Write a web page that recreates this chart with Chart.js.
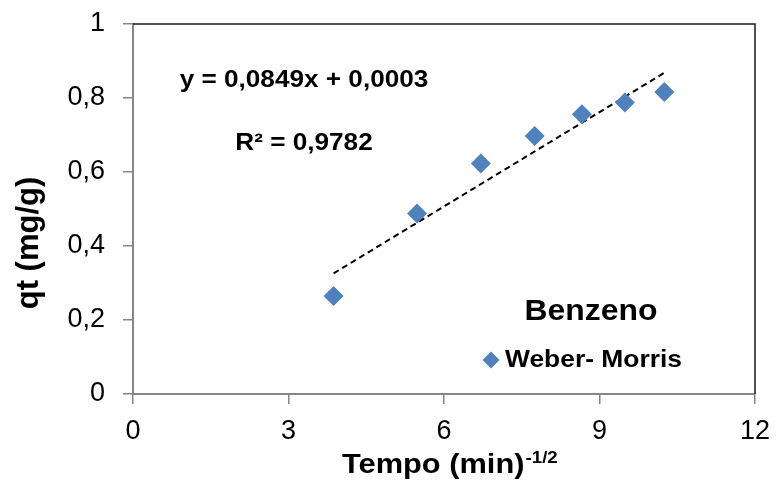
<!DOCTYPE html>
<html>
<head>
<meta charset="utf-8">
<script src="https://cdn.jsdelivr.net/npm/chart.js@4/dist/chart.umd.min.js"></script>
<style>
  html, body { margin: 0; padding: 0; background: #fff; }
  #wrap { width: 778px; height: 488px; }
</style>
</head>
<body>
<div id="wrap"><canvas id="c" width="778" height="488"></canvas></div>
<script>
// ---- data ----
const tempo = [3.87, 5.48, 6.71, 7.75, 8.66, 9.49, 10.25];       // x: Tempo (min)^-1/2
const qt = [0.265, 0.488, 0.623, 0.697, 0.756, 0.788, 0.816];      // y: qt (mg/g)
const trendX = [3.87, 10.25];
const trendY = [0.326, 0.868];
const xTicks = [0, 3, 6, 9, 12];
const yTicks = [0, 0.2, 0.4, 0.6, 0.8, 1];
const xTickLabels = ['0', '3', '6', '9', '12'];
const yTickLabels = ['0', '0,2', '0,4', '0,6', '0,8', '1'];
const seriesName = 'Weber- Morris';
const chartTitle = 'Benzeno';
const equationText = 'y = 0,0849x + 0,0003';
const r2Text = 'R² = 0,9782';
const xTitle = 'Tempo (min)';
const xTitleSup = '-1/2';
const yTitle = 'qt (mg/g)';

const points = tempo.map((x, i) => ({ x: x, y: qt[i] }));
const trend = trendX.map((x, i) => ({ x: x, y: trendY[i] }));

const FONT = '"Liberation Sans", Arial, sans-serif';
const BLUE = '#4F81BD';
const SX = 1.1;

function labelFor(values, labels, v) {
  const i = values.findIndex(t => Math.abs(t - v) < 1e-9);
  return i >= 0 ? labels[i] : '';
}

function stretchText(ctx, text, x, y, align, sx) {
  const w = ctx.measureText(text).width * sx;
  let left = x;
  if (align === 'center') left = x - w / 2;
  else if (align === 'right') left = x - w;
  ctx.save();
  ctx.translate(left, y);
  ctx.scale(sx, 1);
  ctx.textAlign = 'left';
  ctx.fillText(text, 0, 0);
  ctx.restore();
  return w;
}

const decor = {
  id: 'decor',
  beforeDatasetsDraw(chart) {
    const { ctx, chartArea: a } = chart;
    ctx.save();
    ctx.strokeStyle = '#1a1a1a';
    ctx.lineWidth = 1.5;
    ctx.beginPath();
    ctx.moveTo(a.left, a.top);
    ctx.lineTo(a.right, a.top);
    ctx.lineTo(a.right, a.bottom);
    ctx.stroke();
    ctx.restore();
  },
  afterDraw(chart) {
    const { ctx } = chart;
    ctx.save();
    ctx.fillStyle = '#000';
    ctx.textBaseline = 'alphabetic';

    // equation and R²
    ctx.font = 'bold 24px ' + FONT;
    stretchText(ctx, equationText, 304, 87, 'center', 1.09);
    stretchText(ctx, r2Text, 304, 150, 'center', 1.09);

    // chart title inside plot
    ctx.font = 'bold 29px ' + FONT;
    stretchText(ctx, chartTitle, 591, 320, 'center', SX);

    // legend
    ctx.fillStyle = BLUE;
    ctx.beginPath();
    const lx = 491, ly = 360, lr = 8.5;
    ctx.moveTo(lx - lr, ly); ctx.lineTo(lx, ly - lr); ctx.lineTo(lx + lr, ly); ctx.lineTo(lx, ly + lr);
    ctx.closePath(); ctx.fill();
    ctx.fillStyle = '#000';
    ctx.font = 'bold 24px ' + FONT;
    stretchText(ctx, seriesName, 505, 367, 'left', SX);

    // x axis title with superscript
    ctx.font = 'bold 28px ' + FONT;
    const w1 = stretchText(ctx, xTitle, 342, 473, 'left', SX);
    ctx.font = 'bold 17px ' + FONT;
    stretchText(ctx, xTitleSup, 342 + w1 + 1, 463, 'left', SX);

    // y axis title rotated
    ctx.save();
    ctx.translate(29, 243);
    ctx.rotate(-Math.PI / 2);
    ctx.font = 'bold 31px ' + FONT;
    ctx.textAlign = 'center';
    ctx.textBaseline = 'middle';
    ctx.fillText(yTitle, 0, 0);
    ctx.restore();

    ctx.restore();
  }
};

new Chart(document.getElementById('c'), {
  type: 'scatter',
  data: {
    datasets: [
      {
        label: seriesName,
        data: points,
        pointStyle: 'rectRot',
        pointRadius: 10,
        pointHoverRadius: 10,
        backgroundColor: BLUE,
        borderColor: BLUE,
        borderWidth: 0,
        order: 1
      },
      {
        label: 'Linear (' + seriesName + ')',
        data: trend,
        type: 'line',
        showLine: true,
        borderColor: '#000',
        borderWidth: 2,
        borderDash: [6, 4],
        pointRadius: 0,
        fill: false,
        order: 2
      }
    ]
  },
  options: {
    responsive: false,
    animation: false,
    devicePixelRatio: 1,
    layout: { padding: { top: 24, right: 23, left: 0, bottom: 0 } },
    plugins: {
      legend: { display: false },
      tooltip: { enabled: false },
      title: { display: false }
    },
    scales: {
      x: {
        type: 'linear',
        min: 0, max: 12,
        afterBuildTicks(scale) { scale.ticks = xTicks.map(v => ({ value: v })); },
        afterFit(scale) {
          scale.height = 94;
          scale.paddingLeft = 0; scale.paddingRight = 0;
        },
        ticks: {
          font: { family: FONT, size: 27 },
          color: '#000',
          padding: 11,
          callback: v => labelFor(xTicks, xTickLabels, v),
          maxRotation: 0
        },
        grid: { drawOnChartArea: false, drawTicks: true, tickLength: 10, color: '#868686', lineWidth: 1.5 },
        border: { display: true, color: '#868686', width: 2 }
      },
      y: {
        type: 'linear',
        min: 0, max: 1,
        afterBuildTicks(scale) { scale.ticks = yTicks.map(v => ({ value: v })); },
        afterFit(scale) {
          scale.width = 133;
          scale.paddingTop = 0; scale.paddingBottom = 0;
        },
        ticks: {
          font: { family: FONT, size: 27 },
          color: '#000',
          padding: 18,
          callback: v => labelFor(yTicks, yTickLabels, v)
        },
        grid: { drawOnChartArea: false, drawTicks: true, tickLength: 10, color: '#868686', lineWidth: 1.5 },
        border: { display: true, color: '#868686', width: 2 }
      }
    }
  },
  plugins: [decor]
});
</script>
</body>
</html>
